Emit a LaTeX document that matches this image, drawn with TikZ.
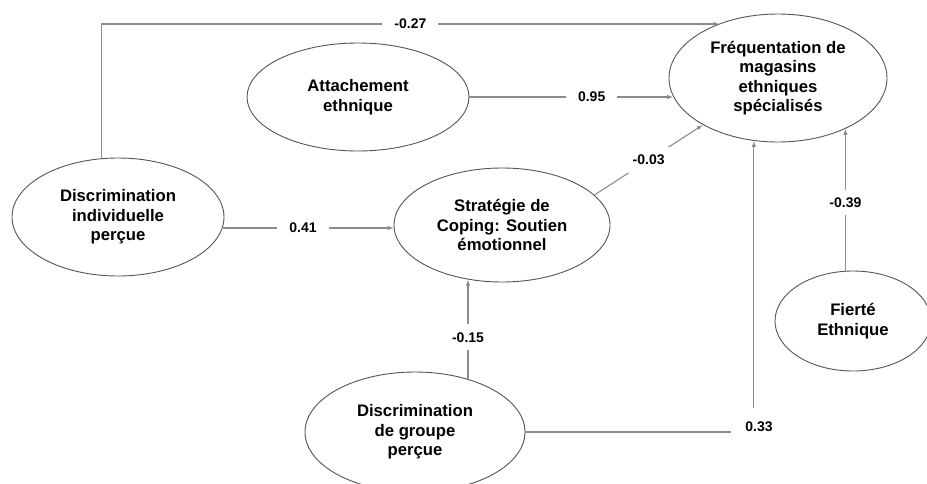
\documentclass[tikz,border=0pt]{standalone}
\usepackage{fontspec}
\setmainfont{Liberation Sans}
\usetikzlibrary{shapes.geometric,arrows.meta,calc}
\definecolor{linegray}{RGB}{140,140,140}
\definecolor{edgegray}{RGB}{85,85,85}
\begin{document}
\begin{tikzpicture}[x=1pt,y=-1pt,
  var/.style={ellipse, draw=edgegray, line width=0.9pt, inner sep=0pt,
    font=\fontsize{16.7}{19.5}\selectfont\bfseries, align=center},
  conn/.style={draw=linegray, line width=1.1pt, -{Latex[length=6pt,width=4.5pt]}},
  lab/.style={fill=white, font=\fontsize{14}{16}\selectfont\bfseries, inner xsep=12pt, inner ysep=8pt}]
\useasboundingbox[fill=white] (0,0) rectangle (927,483);
\coordinate (toprow) at (0,24);

\node[var, minimum width=218pt, minimum height=128pt] (freq) at (778,78) {Fréquentation de\\magasins\\ethniques\\spécialisés};
\node[var, minimum width=222pt, minimum height=108pt] (att) at (358,97) {Attachement\\ethnique};
\node[var, minimum width=212pt, minimum height=118pt] (indiv) at (118,217) {Discrimination\\individuelle\\perçue};
\node[var, minimum width=216pt, minimum height=114pt] (strat) at (502,225) {Stratégie de\\Coping: Soutien\\émotionnel};
\node[var, minimum width=220pt, minimum height=120pt] (groupe) at (415,432) {Discrimination\\de groupe\\perçue};
\node[var, minimum width=156pt, minimum height=100pt] (fierte) at (853,321) {Fierté\\Ethnique};

\draw[conn] (indiv.106) -- (indiv.106 |- toprow) -- node[lab]{-0.27} (freq.137 |- toprow);
\draw[conn] (att.east) -- node[lab,pos=.6]{0.95} (att.east -| freq.190);
\draw[conn] (indiv.354) -- node[lab,pos=.47]{0.41} (indiv.354 -| strat.west);
\draw[conn] (strat.18) -- node[lab,pos=.5]{-0.03} (freq.212);
\draw[conn] (groupe.45) -- node[lab,pos=.42]{-0.15} (groupe.45 |- strat.238);
\draw[conn] (fierte.north -| freq.323) -- node[lab,pos=.48]{-0.39} (freq.323);
\draw[conn] (groupe.east) -- (groupe.east -| freq.249) -- (freq.249);
\node[lab, inner xsep=14pt, inner ysep=14pt] (l33) at (759,427) {0.33};
\end{tikzpicture}
\end{document}
